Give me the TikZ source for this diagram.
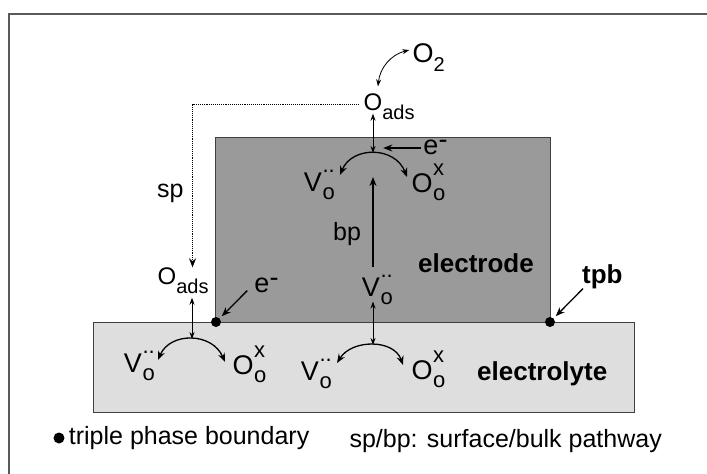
\documentclass[tikz,border=0pt]{standalone}
\usepackage{fontspec}
\setmainfont{Liberation Sans}
\usetikzlibrary{arrows.meta,positioning,calc}
\definecolor{electrodegray}{RGB}{154,154,154}
\definecolor{electrolytegray}{RGB}{222,222,222}
\definecolor{framegray}{RGB}{90,90,90}
\newcommand{\specfont}{\fontsize{27}{30}\selectfont}
\newcommand{\subfont}{\fontsize{22}{24}\selectfont}
% species with subscript and superscript stacked behind the main letter
\newcommand{\spc}[3]{#1\rlap{\smash{\kern0.5pt\raisebox{0.62em}{\subfont #3}}}\rlap{\smash{\kern0.5pt\raisebox{-0.3em}{\subfont #2}}}}
\newcommand{\vac}{\spc{V}{o}{\raisebox{0.1em}{..}}}
\newcommand{\oxo}{\spc{O}{o}{x}}
\newcommand{\oads}{O\rlap{\smash{\raisebox{-0.38em}{\fontsize{20}{22}\selectfont ads}}}}
\newcommand{\elec}{e\rlap{\smash{\raisebox{0.22em}{-}}}}

\begin{document}
\begin{tikzpicture}[x=1pt, y=-1pt,
    spec/.style={inner sep=0pt, font=\specfont},
    adsspec/.style={inner sep=0pt, font=\fontsize{24}{26}\selectfont},
    elspec/.style={inner sep=0pt, font=\fontsize{27}{29}\selectfont},
    lbl/.style={inner sep=0pt, font=\fontsize{25}{28}\selectfont},
    blbl/.style={inner sep=0pt, font=\fontsize{26}{29}\selectfont\bfseries},
    legend/.style={inner sep=0pt, font=\fontsize{25}{28}\selectfont},
    tpbdot/.style={circle, fill=black, inner sep=0pt, minimum size=10pt},
    arr/.style={-{Stealth[length=9pt, width=7pt]}, line width=1.3pt},
    dblarr/.style={{Stealth[length=7pt, width=5pt]}-{Stealth[length=7pt, width=5pt]}, line width=0.9pt},
    arcarr/.style={{Stealth[length=9pt, width=7pt]}-{Stealth[length=9pt, width=7pt]}, line width=1.3pt},
    sparr/.style={-{Stealth[length=9pt, width=7pt]}, line width=0.9pt, densely dotted},
]
    \useasboundingbox (0,0) rectangle (707,474);

    % Frame: top and left edges only
    \draw[framegray, line width=1.5pt] (9,474) -- (9,14) -- (707,14);

    % Phases
    \draw[black!75, line width=0.8pt, fill=electrolytegray] (93,322) rectangle (634,412);
    \draw[black!75, line width=0.8pt, fill=electrodegray] (215,137) rectangle (550,322);

    % Triple phase boundary points
    \node[tpbdot] (tpbL) at (216,322) {};
    \node[tpbdot] (tpbR) at (550,322) {};

    % Gas and adsorbed oxygen
    \node[spec] (O2) at (423,53) {O\rlap{\smash{\raisebox{-0.33em}{\fontsize{20}{22}\selectfont 2}}}};
    \node[adsspec] (OadsT) at (373,102) {\oads};
    \node[adsspec] (OadsL) at (167,276) {\oads};

    % Electrons
    \node[elspec] (eT) at (431,147) {\elec};
    \node[elspec] (eL) at (262,285) {\elec};

    % Defect species
    \node[spec] (VT) at (313,182) {\vac};
    \node[spec] (OT) at (422,183) {\oxo};
    \node[spec] (VM) at (371,287) {\vac};
    \node[spec] (VB) at (310,371) {\vac};
    \node[spec] (OB) at (422,370) {\oxo};
    \node[spec] (VL) at (133,363) {\vac};
    \node[spec] (OL) at (243,365) {\oxo};

    % Labels
    \node[lbl, anchor=base west] (sp) at (157,197) {sp};
    \node[lbl, anchor=base west] (bp) at (333,240) {bp};
    \node[blbl, anchor=base west] (electrode) at (418,272) {electrode};
    \node[blbl, anchor=base west] (electrolyte) at (477,380) {electrolyte};
    \node[blbl, anchor=base west] (tpb) at (582,283) {tpb};

    % Reaction points
    \coordinate (apexT) at (373,153);
    \coordinate (apexM) at (373,345);
    \coordinate (apexL) at (192,339);

    % Adsorption / desorption
    \draw[dblarr, line width=0.8pt] ([shift={(5,-7)}]OadsT.north) to[bend left=35] ([shift={(-3,-3)}]O2.west);
    \draw[dblarr] ($(apexT |- OadsT.south)+(0,3)$) -- (apexT);
    \draw[dblarr] ($(apexM |- VM.south)+(0,5)$) -- (apexM);
    \draw[dblarr] ($(apexL |- OadsL.south)+(0,13)$) -- (apexL);

    % Incorporation arcs
    \draw[arcarr] ([shift={(27,-7)}]VT.center) .. controls +(12,-29) and +(-12,-31) .. ([shift={(-15,-6)}]OT.center);
    \draw[arcarr] ([shift={(27,-8)}]VB.center) .. controls +(15,-24) and +(-9,-26) .. ([shift={(-19,-5)}]OB.center);
    \draw[arcarr] ([shift={(25,-3)}]VL.center) .. controls +(12,-28) and +(-13,-30) .. ([shift={(-18,-3)}]OL.center);

    % Bulk pathway
    \draw[arr] ($(apexT |- VM.north)+(0,-11)$) -- ($(apexT)+(0,24)$);

    % Electrons and tpb pointer
    \draw[arr] ([shift={(-2,1)}]eT.west) -- ([shift={(-40,1)}]eT.west);
    \draw[arr, shorten >=3pt] ([shift={(-7,-2)}]eL.south west) -- (tpbL);
    \draw[arr, shorten >=3pt] ([xshift=1pt]tpb.south west) -- (tpbR);

    % Surface pathway
    \draw[sparr] ([shift={(-5,2)}]OadsT.west) -| ([xshift=16pt]OadsL.north east);

    % Legend
    \node[tpbdot, minimum size=11pt] (legdot) at (59,438) {};
    \node[legend, right=4pt of legdot] (legtpb) {triple phase boundary};
    \node[legend, anchor=base east] (legpath) at (662,447) {sp/bp: surface/bulk pathway};
\end{tikzpicture}
\end{document}
